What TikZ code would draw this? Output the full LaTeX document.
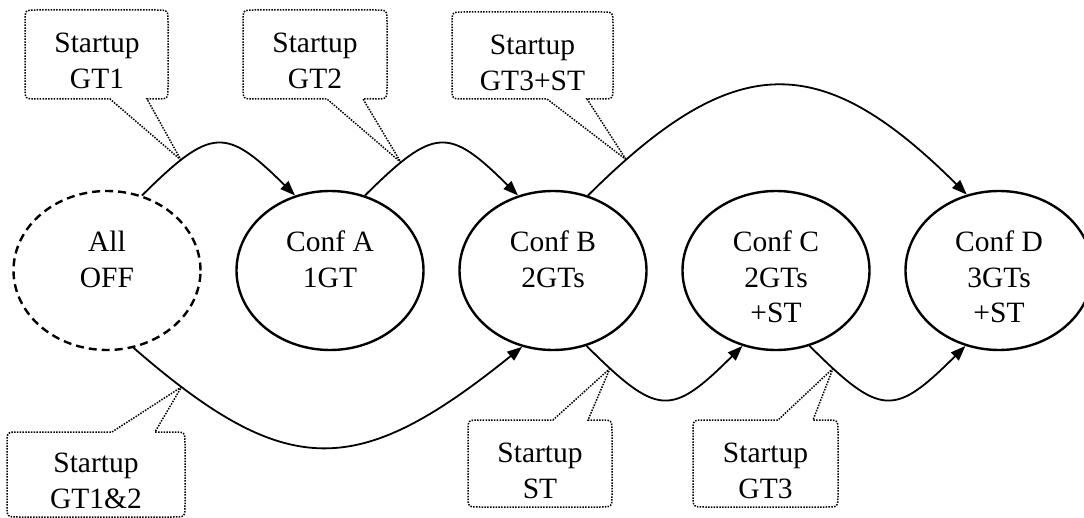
\documentclass[tikz,border=0pt]{standalone}
\usepackage{fontspec}
\setmainfont{Liberation Serif}
\usetikzlibrary{arrows.meta,shapes.geometric}

% Speech bubble with a pointer: #1 left x, #2 right x, #3 y of the edge
% carrying the pointer, #4 y of the opposite edge, #5/#6 pointer base x,
% #7 pointer tip, #8 signed corner size (towards the opposite edge).
\newcommand{\bubble}[8]{%
  \draw[bubbleline] (#7) -- (#5,#3)
    -- ({#1+12},#3) .. controls (#1,#3) .. (#1,{#3+#8})
    -- (#1,{#4-#8}) .. controls (#1,#4) .. ({#1+12},#4)
    -- ({#2-12},#4) .. controls (#2,#4) .. (#2,{#4-#8})
    -- (#2,{#3+#8}) .. controls (#2,#3) .. ({#2-12},#3)
    -- (#6,#3) -- cycle;}

\begin{document}
\begin{tikzpicture}[x=1pt,y=-1pt,
  every node/.style={font=\fontsize{29.5}{35.5}\selectfont},
  state/.style={ellipse, draw, line width=2.4pt, minimum width=187pt,
    minimum height=159pt, inner sep=0pt, align=flush center,
    text width=120pt, text height=20pt, text depth=57pt},
  offstate/.style={state, dash pattern=on 8pt off 5pt},
  conn/.style={line width=1.8pt, -{Triangle[length=15pt,width=11pt]}},
  bubbleline/.style={line width=1.5pt, dash pattern=on 1.5pt off 1.3pt},
  bubbletext/.style={anchor=north, align=center, inner sep=0pt}]

\useasboundingbox (0,0) rectangle (1084,518);

% plant configurations
\node[offstate] (off) at (107,270.5) {All\\OFF};
\node[state] (A) at (330,270.5) {Conf A\\1GT};
\node[state] (B) at (553,270.5) {Conf B\\2GTs};
\node[state] (C) at (776,270.5) {Conf C\\2GTs\\+ST};
\node[state] (D) at (999,270.5) {Conf D\\3GTs\\+ST};

% transitions
\draw[conn] (off.65) .. controls (211.5,126.6) and (225.5,126.6) .. (A.115)
  coordinate[pos=0.22] (p1);
\draw[conn] (A.65) .. controls (434.5,126.6) and (448.5,126.6) .. (B.115)
  coordinate[pos=0.2] (p2);
\draw[conn] (B.65) .. controls (734.5,49.6) and (820.3,48.7) .. (D.113)
  coordinate[pos=0.09] (p3);
\draw[conn] (off.289) .. controls (287,481) and (357,480) .. (B.248)
  coordinate[pos=0.11] (p4);
\draw[conn] (B.294) .. controls (658,417) and (671,417) .. (C.246)
  coordinate[pos=0.12] (p5);
\draw[conn] (C.294) .. controls (881,417) and (894,417) .. (D.246)
  coordinate[pos=0.12] (p6);

% startup labels
\bubble{25}{168}{99}{10}{110}{147}{p1}{-12}
\node[bubbletext] (l1) at (97,33) {Startup\\GT1};

\bubble{243}{387}{99}{10}{327}{363}{p2}{-12}
\node[bubbletext] (l2) at (315,33) {Startup\\GT2};

\bubble{452}{613}{99}{12}{547}{587}{p3}{-12}
\node[bubbletext] (l3) at (532.5,35) {Startup\\GT3+ST};

\bubble{7}{185}{432}{517}{112}{155}{p4}{12}
\node[bubbletext] (l4) at (96,453) {Startup\\GT1\&2};

\bubble{468}{612}{420}{507}{553}{588}{p5}{12}
\node[bubbletext] (l5) at (540,443) {Startup\\ST};

\bubble{693}{838}{420}{507}{778}{813}{p6}{12}
\node[bubbletext] (l6) at (765.5,443) {Startup\\GT3};

\end{tikzpicture}
\end{document}
